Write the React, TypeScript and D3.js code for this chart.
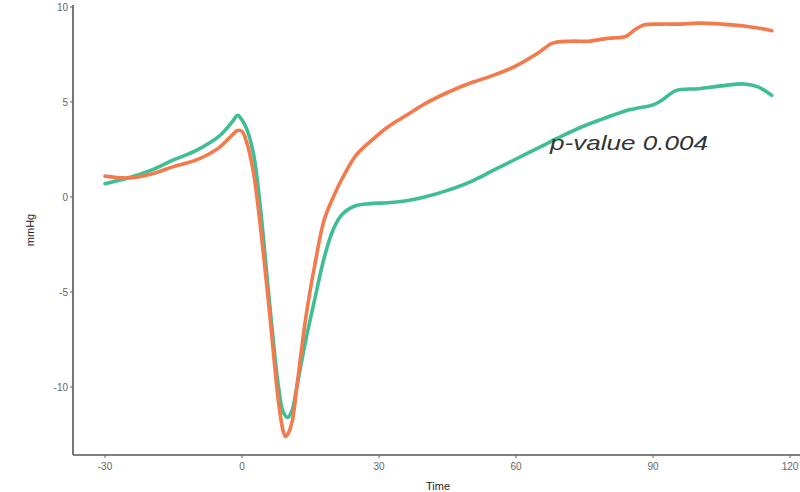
import React from "react";
import * as d3 from "d3";

const greenTime = [-30, -25, -20, -15, -10, -5, -2, -1, 0, 1, 2.5, 4, 6, 8, 9, 10, 11, 12, 14, 16, 18, 20, 22, 25, 28, 32, 36, 40, 45, 50, 55, 60, 65, 70, 75, 80, 85, 90, 92, 95, 100, 105, 110, 113, 116];
const greenValues = [0.7, 1.0, 1.4, 1.95, 2.45, 3.2, 4.0, 4.3, 4.05, 3.6, 2.3, -0.5, -5.5, -10, -11.3, -11.6, -11.2, -10, -7.5, -5.3, -3.2, -1.7, -0.9, -0.45, -0.35, -0.3, -0.2, 0, 0.35, 0.8, 1.4, 2.0, 2.6, 3.2, 3.75, 4.2, 4.6, 4.85, 5.1, 5.6, 5.7, 5.85, 5.95, 5.8, 5.35];

const orangeTime = [-30, -25, -20, -15, -10, -5, -2, -1, 0, 1, 2.5, 4, 6, 8, 9, 9.5, 10, 11, 12, 14, 16, 18, 20, 22, 25, 28, 32, 36, 40, 45, 50, 55, 60, 65, 68, 72, 76, 80, 84, 86, 88, 92, 96, 100, 105, 110, 114, 116];
const orangeValues = [1.1, 1.0, 1.2, 1.6, 1.95, 2.6, 3.3, 3.5, 3.45, 2.9, 1.3, -1.5, -6, -10.8, -12.3, -12.6, -12.5, -11.8, -10, -6.3, -3.5, -1.2, 0, 1.0, 2.2, 2.9, 3.7, 4.3, 4.9, 5.5, 6.0, 6.4, 6.9, 7.6, 8.1, 8.2, 8.2, 8.35, 8.45, 8.8, 9.05, 9.1, 9.1, 9.15, 9.1, 9.0, 8.85, 8.75];

const xTicks = [-30, 0, 30, 60, 90, 120];
const yTicks = [-10, -5, 0, 5, 10];
const xTitle = "Time";
const yTitle = "mmHg";
const annotation = "p-value 0.004";

const W = 800;
const H = 492;
const left = 73;
const bottom = 455;
const top = 5;

export default function App() {
  const x = d3.scaleLinear().domain([-30, 120]).range([105, 790]);
  const y = d3.scaleLinear().domain([-10, 10]).range([387, 7]);
  const line = d3
    .line<[number, number]>()
    .x((d) => x(d[0]))
    .y((d) => y(d[1]))
    .curve(d3.curveCatmullRom.alpha(0.5));
  const green = greenTime.map((t, i) => [t, greenValues[i]] as [number, number]);
  const orange = orangeTime.map((t, i) => [t, orangeValues[i]] as [number, number]);
  const font = "'Liberation Sans', Arial, sans-serif";
  return (
    <svg
      width={W}
      height={H}
      style={{ position: "absolute", left: 0, top: 0, display: "block", background: "#fff" }}
    >
      <path d={line(green) || ""} fill="none" stroke="#3fbe93" strokeWidth={3.6} strokeLinejoin="round" strokeLinecap="round" />
      <path d={line(orange) || ""} fill="none" stroke="#f27a4c" strokeWidth={3.6} strokeLinejoin="round" strokeLinecap="round" />
      <line x1={left} x2={left} y1={top} y2={bottom} stroke="#555" strokeWidth={1.6} />
      <line x1={left} x2={W} y1={bottom} y2={bottom} stroke="#555" strokeWidth={1.6} />
      {yTicks.map((t) => (
        <g key={"y" + t}>
          <line x1={left - 3} x2={left} y1={y(t)} y2={y(t)} stroke="#666" strokeWidth={1} />
          <text x={left - 5} y={y(t)} dy="0.35em" textAnchor="end" fontSize={10} fill="#666" fontFamily={font}>
            {t}
          </text>
        </g>
      ))}
      {xTicks.map((t) => (
        <g key={"x" + t}>
          <line x1={x(t)} x2={x(t)} y1={bottom} y2={bottom + 3} stroke="#666" strokeWidth={1} />
          <text x={x(t)} y={bottom + 15} textAnchor="middle" fontSize={10} fill="#666" fontFamily={font}>
            {t}
          </text>
        </g>
      ))}
      <text x={438} y={490} textAnchor="middle" fontSize={11} fill="#222" fontFamily={font}>
        {xTitle}
      </text>
      <text
        transform={`translate(30,${230}) rotate(-90)`}
        textAnchor="middle"
        dy="0.35em"
        fontSize={11}
        fill="#222"
        fontFamily={font}
      >
        {yTitle}
      </text>
      <text
        x={550}
        y={150}
        fontSize={21}
        fontStyle="italic"
        fill="#333"
        fontFamily={font}
        textLength={158}
        lengthAdjust="spacingAndGlyphs"
      >
        {annotation}
      </text>
    </svg>
  );
}
